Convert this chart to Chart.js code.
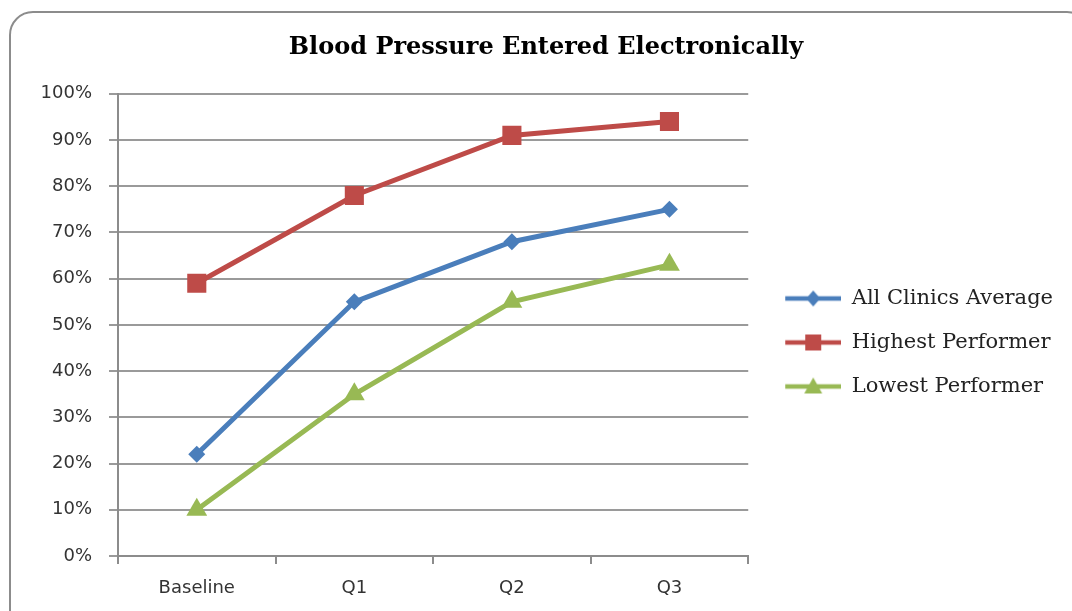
<!DOCTYPE html>
<html>
<head>
<meta charset="utf-8">
<script src="https://cdn.jsdelivr.net/npm/chart.js@4/dist/chart.umd.min.js"></script>
<style>
  body { margin: 0; background: #fff; overflow: hidden; }
  #wrap { position: relative; width: 1072px; height: 611px; }
  #frame {
    position: absolute; left: 9px; top: 11px; width: 1078px; height: 640px;
    border: 2px solid #8c8c8c; border-radius: 24px; pointer-events: none;
  }
  canvas { position: absolute; left: 0; top: 0; }
</style>
</head>
<body>
<div id="wrap">
  <canvas id="chart" width="1072" height="611"></canvas>
  <div id="frame"></div>
</div>
<script>
const categories = ['Baseline', 'Q1', 'Q2', 'Q3'];
const allClinics = [22, 55, 68, 75];
const highest = [59, 78, 91, 94];
const lowest = [10, 35, 55, 63];

const BLUE = '#4a7ebb';
const RED = '#be4b48';
const GREEN = '#98b954';

// legend swatch: line with the marker in the middle (blank strip on the left)
function swatch(color, style) {
  const c = document.createElement('canvas');
  c.width = 70; c.height = 22;
  const g = c.getContext('2d');
  g.strokeStyle = color; g.lineWidth = 4.5;
  g.beginPath(); g.moveTo(14, 11); g.lineTo(70, 11); g.stroke();
  g.fillStyle = color;
  g.beginPath();
  if (style === 'rectRot') {
    g.moveTo(42, 3); g.lineTo(49, 11); g.lineTo(42, 19); g.lineTo(35, 11);
  } else if (style === 'rect') {
    g.rect(34, 3, 16, 16);
  } else {
    g.moveTo(42, 2); g.lineTo(51, 18); g.lineTo(33, 18);
  }
  g.closePath(); g.fill();
  return c;
}

function series(label, data, color, style, radius) {
  return {
    label: label,
    data: data,
    borderColor: color,
    backgroundColor: color,
    borderWidth: 5,
    pointStyle: style,
    pointRadius: radius,
    pointHoverRadius: radius,
    pointBorderWidth: 0,
    tension: 0,
    _swatch: swatch(color, style)
  };
}

new Chart(document.getElementById('chart'), {
  type: 'line',
  data: {
    labels: categories,
    datasets: [
      series('All Clinics Average', allClinics, BLUE, 'rectRot', 8.5),
      series('Highest Performer', highest, RED, 'rect', 13.5),
      series('Lowest Performer', lowest, GREEN, 'triangle', 12)
    ]
  },
  options: {
    responsive: false,
    animation: false,
    layout: { padding: { left: 29, right: 9, top: 0, bottom: 0 } },
    plugins: {
      title: {
        display: true,
        text: 'Blood Pressure Entered Electronically',
        color: '#000',
        font: { family: 'DejaVu Serif', size: 24, weight: 'bold' },
        padding: { top: 33, bottom: 32 }
      },
      legend: {
        position: 'right',
        maxWidth: 340,
        title: { display: true, text: ' ', font: { size: 10 }, padding: { top: 62, bottom: 0 } },
        labels: {
          usePointStyle: true,
          pointStyleWidth: 70,
          padding: 23,
          color: '#222',
          font: { family: 'DejaVu Serif', size: 21 },
          generateLabels: chart => chart.data.datasets.map((ds, i) => ({
            text: ds.label,
            pointStyle: ds._swatch,
            fillStyle: ds.borderColor,
            strokeStyle: ds.borderColor,
            lineWidth: 0,
            hidden: false,
            datasetIndex: i,
            fontColor: '#222'
          }))
        }
      },
      tooltip: { enabled: false }
    },
    scales: {
      x: {
        offset: true,
        afterFit: s => { s.height = 55; },
        grid: { offset: true, drawOnChartArea: false, color: '#8c8c8c', lineWidth: 2, tickLength: 8 },
        border: { color: '#8c8c8c', width: 2 },
        ticks: { color: '#333', padding: 14, font: { family: 'DejaVu Sans', size: 18 } }
      },
      y: {
        min: 0,
        max: 100,
        afterFit: s => { s.width = 89; },
        grid: { color: '#9a9a9a', lineWidth: 2, tickLength: 9 },
        border: { color: '#8c8c8c', width: 2 },
        ticks: {
          stepSize: 10,
          color: '#333',
          padding: 17,
          font: { family: 'DejaVu Sans', size: 18 },
          callback: v => v + '%'
        }
      }
    }
  }
});
</script>
</body>
</html>
